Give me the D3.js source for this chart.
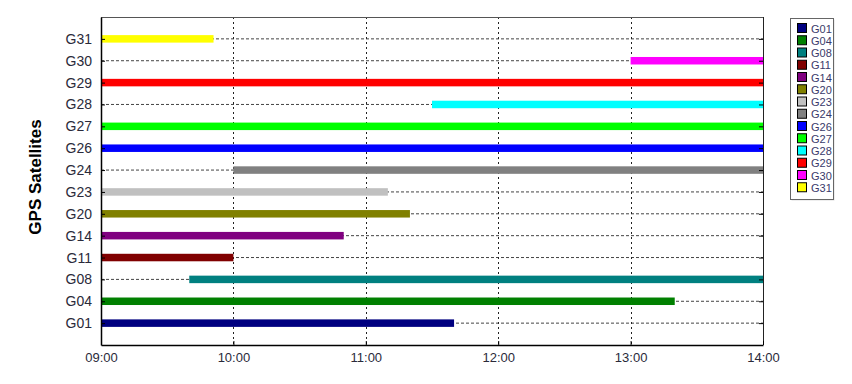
<!DOCTYPE html>
<html lang="en">
<head>
    <meta charset="UTF-8">
    <script src="https://d3js.org/d3.v7.min.js"></script>
    <style>
        body { margin: 0; background: #fff; }
        text { font-family: Arial, "Liberation Sans", sans-serif; }
    </style>
</head>
<body>
    <svg id="chart" width="852" height="384"></svg>
    <script>
        // Satellites listed bottom to top, with visibility windows
        const satellites = ["G01", "G04", "G08", "G11", "G14", "G20", "G23", "G24", "G26", "G27", "G28", "G29", "G30", "G31"];
        const startTimes = ["09:00", "09:00", "09:40", "09:00", "09:00", "09:00", "09:00", "10:00", "09:00", "09:00", "11:30", "09:00", "13:00", "09:00"];
        const endTimes   = ["11:40", "13:20", "14:00", "10:00", "10:50", "11:20", "11:10", "14:00", "14:00", "14:00", "14:00", "14:00", "14:00", "09:51"];
        const colors = ["#000080", "#008000", "#008080", "#800000", "#800080", "#808000", "#c0c0c0",
                        "#808080", "#0000ff", "#00ff00", "#00ffff", "#ff0000", "#ff00ff", "#ffff00"];
        const timeDomain = ["09:00", "14:00"];

        const parse = d3.timeParse("%H:%M");
        const data = satellites.map((s, i) => ({
            sat: s,
            start: parse(startTimes[i]),
            end: parse(endTimes[i]),
            color: colors[i]
        }));

        const width = 852, height = 384;
        const margin = { top: 17, right: 89, bottom: 39, left: 101 };
        const svg = d3.select("#chart");

        const x = d3.scaleTime()
            .domain(timeDomain.map(parse))
            .range([margin.left, width - margin.right]);

        const y = d3.scalePoint()
            .domain(satellites)
            .range([height - margin.bottom, margin.top])
            .padding(1);

        const hours = x.ticks(d3.timeHour.every(1));

        // grid lines
        svg.append("g").selectAll("line")
            .data(satellites)
            .enter().append("line")
            .attr("x1", margin.left).attr("x2", width - margin.right)
            .attr("y1", d => y(d)).attr("y2", d => y(d))
            .attr("stroke", "#444").attr("stroke-width", 1)
            .attr("stroke-dasharray", "3,2");

        svg.append("g").selectAll("line")
            .data(hours.slice(1, -1))
            .enter().append("line")
            .attr("x1", d => Math.round(x(d)) + 0.5).attr("x2", d => Math.round(x(d)) + 0.5)
            .attr("y1", margin.top).attr("y2", height - margin.bottom)
            .attr("stroke", "#222").attr("stroke-width", 1)
            .attr("stroke-dasharray", "2,3");

        // bars
        svg.append("g").selectAll("rect")
            .data(data)
            .enter().append("rect")
            .attr("x", d => x(d.start))
            .attr("width", d => x(d.end) - x(d.start))
            .attr("y", d => y(d.sat) - 3.75)
            .attr("height", 7.5)
            .attr("fill", d => d.color);

        // frame: top/right gray, left/bottom black
        const x0 = margin.left, x1 = width - margin.right;
        const y0 = margin.top, y1 = height - margin.bottom;
        svg.append("line").attr("x1", x0).attr("x2", x1).attr("y1", y0 + 0.5).attr("y2", y0 + 0.5)
            .attr("stroke", "#555");
        svg.append("line").attr("x1", x1 + 0.5).attr("x2", x1 + 0.5).attr("y1", y0).attr("y2", y1)
            .attr("stroke", "#222");

        // axes with inner ticks
        const yAxis = svg.append("g")
            .attr("transform", `translate(${x0},0)`)
            .call(d3.axisLeft(y).tickSizeInner(-4).tickSizeOuter(0).tickPadding(9));
        yAxis.select(".domain").attr("stroke", "#000").attr("stroke-width", 1.5);
        yAxis.selectAll("text").style("font-size", "14px").attr("fill", "#2a2a3a");

        svg.append("g")
            .attr("transform", `translate(${x1},0)`)
            .call(d3.axisRight(y).tickSizeInner(-4).tickSizeOuter(0).tickFormat(""))
            .select(".domain").remove();

        const xAxis = svg.append("g")
            .attr("transform", `translate(0,${y1})`)
            .call(d3.axisBottom(x).ticks(d3.timeHour.every(1)).tickFormat(d3.timeFormat("%H:%M"))
                .tickSizeInner(-4).tickSizeOuter(0).tickPadding(8));
        xAxis.select(".domain").attr("stroke", "#000").attr("stroke-width", 1.5);
        xAxis.selectAll("text").style("font-size", "13px").attr("fill", "#2a2a3a");

        // y title
        svg.append("text")
            .attr("transform", `translate(37,${(y0 + y1) / 2 - 4}) rotate(-90)`)
            .attr("text-anchor", "middle")
            .attr("dominant-baseline", "middle")
            .style("font-size", "17px")
            .style("font-weight", "bold")
            .text("GPS Satellites");

        // legend
        const lg = svg.append("g").attr("transform", "translate(790,18)");
        lg.append("rect").attr("x", 1.5).attr("y", 1.5).attr("width", 43).attr("height", 181)
            .attr("fill", "#ddd");
        lg.append("rect").attr("x", 0.5).attr("y", 0.5).attr("width", 43).attr("height", 181)
            .attr("fill", "#fff").attr("stroke", "#666");
        const items = lg.selectAll(".item")
            .data(data)
            .enter().append("g")
            .attr("class", "item")
            .attr("transform", (d, i) => `translate(7,${10 + i * 12.25})`);
        items.append("rect")
            .attr("x", 0.5).attr("y", -4.5).attr("width", 9).attr("height", 9)
            .attr("fill", d => d.color).attr("stroke", "#000");
        items.append("text")
            .attr("x", 14).attr("y", 0.5)
            .attr("dominant-baseline", "central")
            .style("font-size", "11px")
            .attr("fill", "#3a3a6a")
            .text(d => d.sat);
    </script>
</body>
</html>
